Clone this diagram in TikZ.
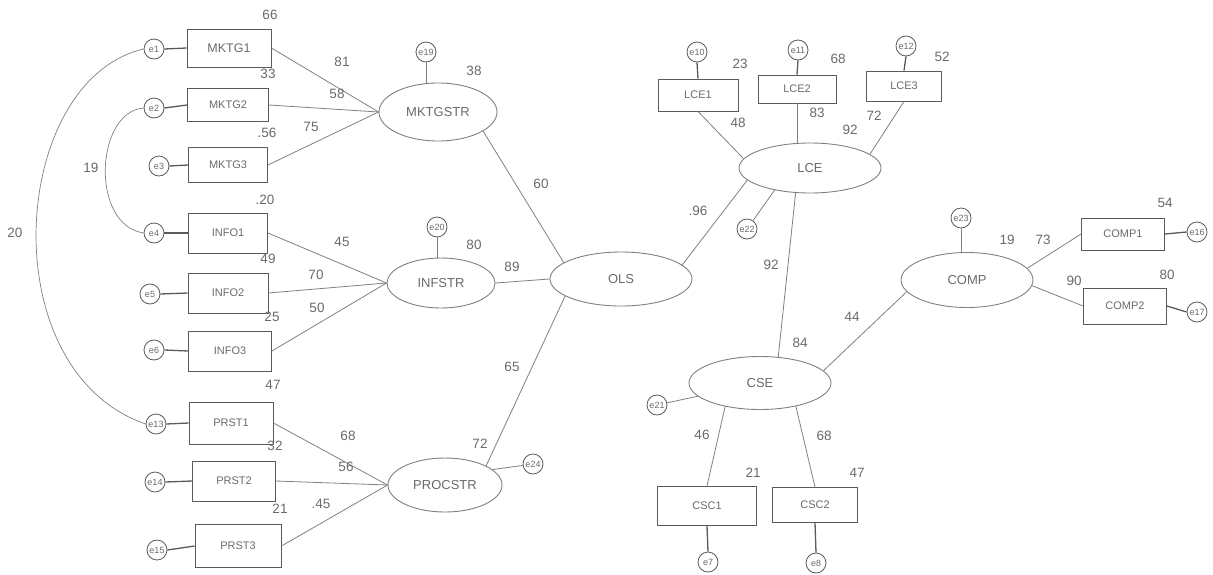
\documentclass[tikz,border=0pt]{standalone}
\usepackage{fontspec}
\setmainfont{Liberation Sans}
\usetikzlibrary{shapes.geometric}
\definecolor{ln}{HTML}{808080}
\definecolor{bx}{HTML}{5A5A5A}
\definecolor{tx}{HTML}{6A6A6A}
\tikzset{
  obs/.style={draw=bx, line width=0.9pt, rectangle, inner sep=0pt, text=tx, font=\fontsize{11}{11}\selectfont},
  lat/.style={draw=ln, line width=0.9pt, ellipse, inner sep=0pt, text=tx, font=\fontsize{13}{13}\selectfont},
  err/.style={draw=bx, line width=0.8pt, circle, minimum size=20pt, inner sep=0pt, text=tx, font=\fontsize{9}{9}\selectfont},
  num/.style={text=tx, inner sep=0pt, font=\fontsize{13.5}{13.5}\selectfont},
  path/.style={draw=ln, line width=0.8pt},
  epath/.style={draw=bx, line width=1.3pt},
  cov/.style={draw=ln, line width=0.7pt}
}
\begin{document}
\begin{tikzpicture}[x=1pt,y=-1pt]
\useasboundingbox (0,0) rectangle (1213,574);
% observed variables
\node[obs, minimum width=84pt, minimum height=38pt, font=\fontsize{12.5}{12.5}\selectfont] (MKTG1) at (229,48) {MKTG1};
\node[obs, minimum width=81pt, minimum height=33pt] (MKTG2) at (228,105) {MKTG2};
\node[obs, minimum width=79pt, minimum height=35pt] (MKTG3) at (228,165) {MKTG3};
\node[obs, minimum width=79pt, minimum height=40pt] (INFO1) at (228,233) {INFO1};
\node[obs, minimum width=80pt, minimum height=40pt] (INFO2) at (228,293) {INFO2};
\node[obs, minimum width=83pt, minimum height=40pt] (INFO3) at (230,351) {INFO3};
\node[obs, minimum width=84pt, minimum height=42pt] (PRST1) at (231,423) {PRST1};
\node[obs, minimum width=83pt, minimum height=40pt] (PRST2) at (234,481) {PRST2};
\node[obs, minimum width=86pt, minimum height=43pt] (PRST3) at (238,546) {PRST3};
\node[obs, minimum width=80pt, minimum height=32pt] (LCE1) at (698,95) {LCE1};
\node[obs, minimum width=78pt, minimum height=28pt] (LCE2) at (797,89) {LCE2};
\node[obs, minimum width=75pt, minimum height=30pt] (LCE3) at (904,86) {LCE3};
\node[obs, minimum width=83pt, minimum height=32pt] (COMP1) at (1123,234) {COMP1};
\node[obs, minimum width=83pt, minimum height=36pt] (COMP2) at (1125,306) {COMP2};
\node[obs, minimum width=99pt, minimum height=39pt] (CSC1) at (707,506) {CSC1};
\node[obs, minimum width=85pt, minimum height=35pt] (CSC2) at (815,505) {CSC2};
% latent variables
\node[lat, minimum width=118pt, minimum height=58pt] (MKTGSTR) at (438,112) {MKTGSTR};
\node[lat, minimum width=108pt, minimum height=50pt] (INFSTR) at (441,283) {INFSTR};
\node[lat, minimum width=114pt, minimum height=54pt] (PROCSTR) at (445,485) {PROCSTR};
\node[lat, minimum width=142pt, minimum height=54pt] (OLS) at (621,279) {OLS};
\node[lat, minimum width=142pt, minimum height=50pt] (LCE) at (810,168) {LCE};
\node[lat, minimum width=142pt, minimum height=53pt] (CSE) at (760,383) {CSE};
\node[lat, minimum width=132pt, minimum height=55pt] (COMP) at (967,280) {COMP};
% error terms
\node[err] (e1) at (154,49) {e1};
\node[err] (e2) at (154,108) {e2};
\node[err] (e3) at (159,166) {e3};
\node[err] (e4) at (154,233) {e4};
\node[err] (e5) at (150,294) {e5};
\node[err] (e6) at (154,350) {e6};
\node[err] (e13) at (156,424) {e13};
\node[err] (e14) at (155,482) {e14};
\node[err] (e15) at (157,550) {e15};
\node[err] (e19) at (426,52) {e19};
\node[err] (e20) at (437,227) {e20};
\node[err] (e24) at (533,464) {e24};
\node[err] (e10) at (697,52) {e10};
\node[err] (e11) at (798,50) {e11};
\node[err] (e12) at (906,46) {e12};
\node[err] (e22) at (747,229) {e22};
\node[err] (e23) at (961,218) {e23};
\node[err] (e16) at (1197,232) {e16};
\node[err] (e17) at (1197,312) {e17};
\node[err] (e21) at (657,405) {e21};
\node[err] (e7) at (708,562) {e7};
\node[err] (e8) at (816,563) {e8};
% error connectors
\foreach \e/\o in {e1/MKTG1,e2/MKTG2,e3/MKTG3,e4/INFO1,e5/INFO2,e6/INFO3,e13/PRST1,e14/PRST2,e15/PRST3}
  \draw[epath] (\e.east) -- (\o.west);
\draw[epath] (COMP1.east) -- (e16.west);
\draw[epath] (COMP2.east) -- (e17.west);
\draw[epath] (e10.south) -- (LCE1.north);
\draw[epath] (e11.south) -- (LCE2.north);
\draw[epath] (e12.south) -- (LCE3.north);
\draw[epath] (CSC1.south) -- (e7.north);
\draw[epath] (CSC2.south) -- (e8.north);
\draw[path] (e19.south) -- (e19.south |- MKTGSTR.north);
\draw[path] (e20.south) -- (e20.south |- INFSTR.north);
\draw[path] (e23.south) -- (e23.south |- COMP.north);
\draw[path] (PROCSTR.18) -- (e24);
\draw[path] (LCE.212) -- (e22);
\draw[path] (CSE.192) -- (e21);
% loadings
\foreach \o in {MKTG1,MKTG2,MKTG3} \draw[path] (\o.east) -- (MKTGSTR.west);
\foreach \o in {INFO1,INFO2,INFO3} \draw[path] (\o.east) -- (INFSTR.west);
\foreach \o in {PRST1,PRST2,PRST3} \draw[path] (\o.east) -- (PROCSTR.west);
\draw[path] (LCE1.south) -- (LCE.172);
\draw[path] (LCE2.south) -- (LCE2.south |- LCE.north);
\draw[path] (LCE3.south) -- (LCE.13);
\draw[path] (COMP.11) -- (COMP1.west);
\draw[path] (COMP.355) -- (COMP2.west);
\draw[path] (CSE.214) -- (CSC1.north);
\draw[path] (CSE.327) -- (CSC2.north);
% structural paths
\draw[path] (MKTGSTR.337) -- (OLS.164);
\draw[path] (INFSTR.east) -- (OLS.west);
\draw[path] (PROCSTR.25) -- (OLS.197);
\draw[path] (OLS.13) -- (LCE.191);
\draw[path] (LCE.240) -- (CSE.55);
\draw[path] (CSE.11) -- (COMP.191);
% covariances
\draw[cov] (e1.west) .. controls (10,80) and (-10,370) .. (e13.west);
\draw[cov] (e2.west) .. controls (95,112) and (90,225) .. (e4.west);
% numbers
\foreach \p/\t in {(270,15)/66,(268,74)/33,(267,133)/.56,(342,62)/81,(337,94)/58,(311,127)/75,(474,71)/38,(541,184)/60,
  (265,200)/.20,(342,242)/45,(474,245)/80,(268,259)/49,(316,275)/70,(512,267)/89,(272,317)/25,(317,308)/50,
  (273,385)/47,(348,436)/68,(275,446)/32,(346,467)/56,(280,509)/21,(321,504)/.45,(480,444)/72,(512,367)/65,
  (15,233)/20,(91,168)/19,
  (740,64)/23,(838,59)/68,(942,57)/52,(738,123)/48,(817,113)/83,(874,116)/72,(850,130)/92,(698,211)/.96,
  (771,265)/92,(800,343)/84,(852,317)/44,(1007,240)/19,(1043,240)/73,(1165,203)/54,(1074,281)/90,(1167,275)/80,
  (702,435)/46,(824,436)/68,(753,473)/21,(857,473)/47}
  \node[num] at \p {\t};
\end{tikzpicture}
\end{document}
